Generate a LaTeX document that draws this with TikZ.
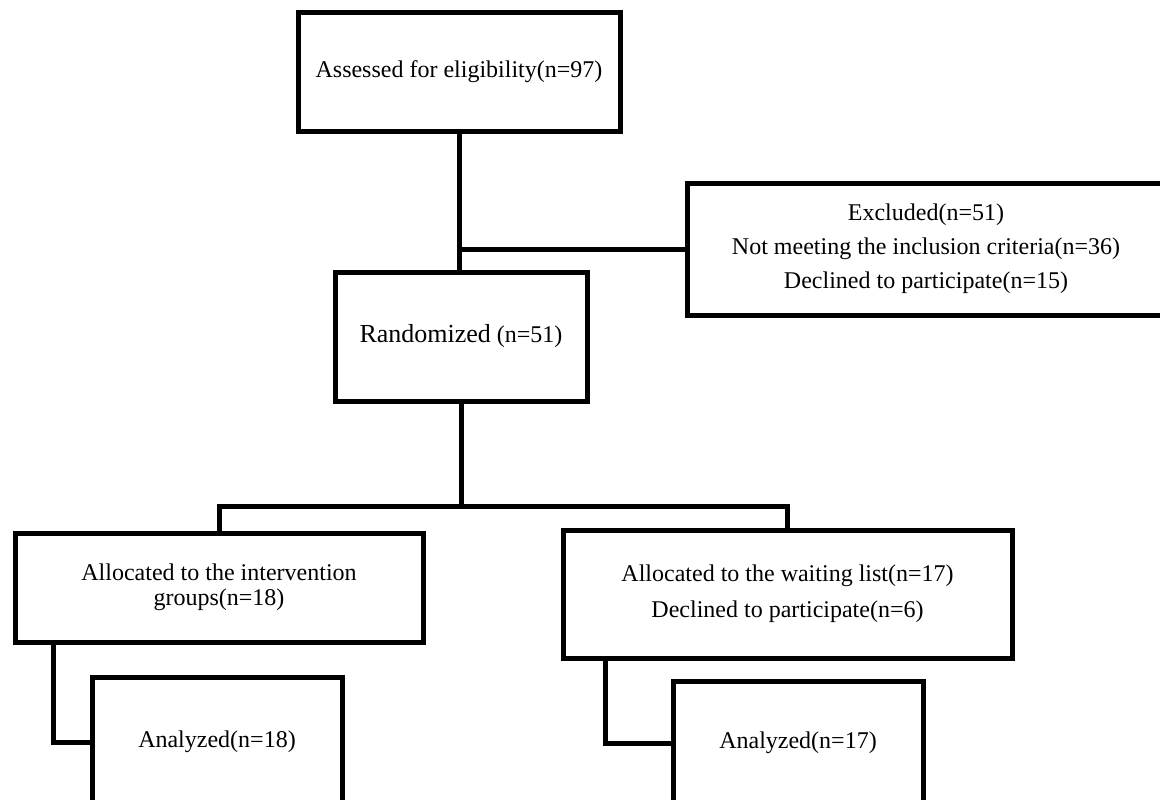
\documentclass[tikz,border=0pt]{standalone}
\usepackage{fontspec}
\setmainfont{Liberation Serif}
\usetikzlibrary{positioning}

\begin{document}
\begin{tikzpicture}[x=1pt,y=-1pt,% one unit per pixel of the 1160x800 page
        box/.style={draw, line width=5pt, inner sep=0pt, align=center,
                font=\fontsize{24}{34}\selectfont},%
        link/.style={draw, line width=5pt}]
\useasboundingbox (0,0) rectangle (1160,800);

\node[box, minimum width=322pt, minimum height=118pt] (assess) at (459,72) {Assessed for eligibility(n=97)};
\node[box, minimum width=478pt, minimum height=132pt] (excl) at (926,249) {Excluded(n=51)\\Not meeting the inclusion criteria(n=36)\\Declined to participate(n=15)};
\node[box, minimum width=252pt, minimum height=129pt] (rand) at (461,336.5) {{\fontsize{26}{30}\selectfont Randomized} (n=51)};

\node[box, minimum width=408pt, minimum height=109pt, font=\fontsize{24}{25}\selectfont] (alloci) at (219,587.5) {Allocated to the intervention\\groups(n=18)};
\node[box, minimum width=449pt, minimum height=128pt, font=\fontsize{24}{36}\selectfont] (allocw) at (787.5,594) {Allocated to the waiting list(n=17)\\Declined to participate(n=6)};

\node[box, minimum width=250pt, minimum height=130pt] (anai) at (217,742) {Analyzed(n=18)};
\node[box, minimum width=250pt, minimum height=124pt] (anaw) at (798,743) {Analyzed(n=17)};

\coordinate (split) at (460,506); % where the two arms leave the trunk

\draw[link] (assess.south) -- (assess.south |- rand.north);
\draw[link] (assess.south |- excl.west) -- (excl.west);
\draw[link] (rand.south) -- (rand.south |- split);
\draw[link] (alloci.north) -- (alloci.north |- split) -- (allocw.north |- split) -- (allocw.north);

\draw[link] ([xshift=41pt]alloci.south west) |- (anai.west);
\draw[link] ([xshift=45pt]allocw.south west) |- (anaw.west);

\end{tikzpicture}
\end{document}
